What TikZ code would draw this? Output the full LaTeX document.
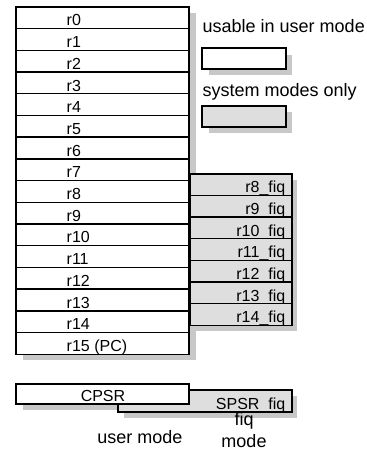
\documentclass[tikz,border=0pt]{standalone}
\usepackage{fontspec}
\setmainfont{Liberation Sans}
\definecolor{shadowgray}{RGB}{200, 200, 200}
\definecolor{fiqgray}{RGB}{222, 222, 222}
\usepackage{tikz}
\usetikzlibrary{positioning}

\begin{document}
\begin{tikzpicture}[x=0.5pt, y=-0.5pt, line width=0.7pt, every node/.style={font=\fontsize{8}{9}\selectfont, inner sep=0pt}]
        \useasboundingbox (0,0) rectangle (367,453);
        % shadows
        \fill[shadowgray] (23,13) rectangle (196,360);
        \fill[shadowgray] (196,180) rectangle (297,331);
        \fill[shadowgray] (209,55) rectangle (292,75);
        \fill[shadowgray] (209,112) rectangle (292,133);
        \fill[shadowgray] (23,390) rectangle (196,410);
        \fill[shadowgray] (124,396) rectangle (297,418);
        % fiq bank
        \foreach \i in {8,...,14} {
          \pgfmathsetmacro\top{174+(\i-8)*21.6}
          \draw[fill=fiqgray] (190,\top) rectangle (292,\top+21.6);
          \node[anchor=base east] (f\i) at (286,\top+19) {r\i\_fiq};
        }
        % user bank
        \foreach \i in {0,...,15} {
          \pgfmathsetmacro\top{7+\i*21.7}
          \draw[fill=white] (16,\top) rectangle (189,\top+21.7);
        }
        \foreach \i in {0,...,14} {
          \node[anchor=base west] (r\i) at (66,7+\i*21.7+19) {r\i};
        }
        \node[anchor=base west] (r15) at (66,7+15*21.7+19) {r15 (PC)};
        % key
        \node[anchor=base west, font=\fontsize{9}{10}\selectfont] (userkey) at (202,33) {usable in user mode};
        \draw[fill=white] (202,48) rectangle (286,69);
        \node[anchor=base west, font=\fontsize{9}{10}\selectfont] (syskey) at (202,97) {system modes only};
        \draw[fill=fiqgray] (202,106) rectangle (286,127);
        % status registers
        \draw[fill=fiqgray] (118,390) rectangle (292,412); \node[anchor=base east] (spsr) at (286,409) {SPSR\_fiq};
        \draw[fill=white] (16,384) rectangle (189,404); \node[anchor=base] (cpsr) at (103,401) {CPSR};
        \node[font=\fontsize{9}{10}\selectfont] (usermode) at (140,437) {user mode};
        \node[font=\fontsize{9}{11}\selectfont, align=center] (fiqmode) at (244,430) {fiq\\mode};
      \end{tikzpicture}
\end{document}
